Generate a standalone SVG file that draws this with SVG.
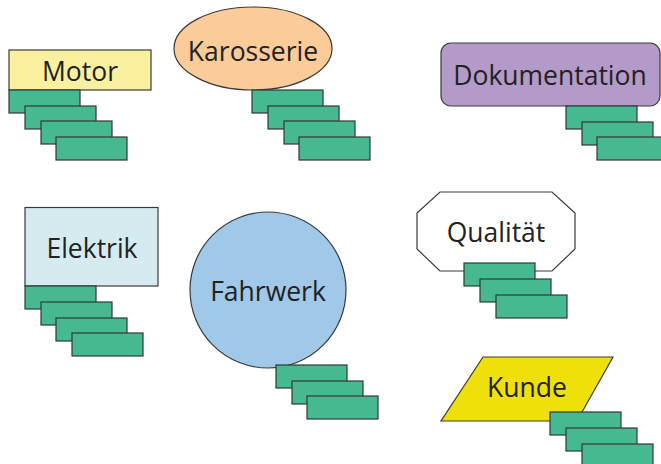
<svg xmlns="http://www.w3.org/2000/svg" width="661" height="464" viewBox="0 0 661 464">
<style>
.s{stroke:#3a3a3a;stroke-width:1.2}
.g{fill:#47B990;stroke:#2f3a35;stroke-width:1.2}
.t{font-family:"Open Sans","Noto Sans",sans-serif;font-size:26.5px;fill:#222;text-anchor:middle}
</style>
<rect width="661" height="464" fill="#fff"/>
<g id="motor">
<rect class="s" x="9" y="50" width="142" height="40" fill="#FAF0A0"/>
<text class="t" x="80" y="81">Motor</text>
<rect class="g" x="9" y="90" width="71" height="23"/>
<rect class="g" x="25" y="106" width="71" height="23"/>
<rect class="g" x="41" y="121" width="71" height="23"/>
<rect class="g" x="56" y="137" width="71" height="23"/>
</g>
<g id="karosserie">
<ellipse class="s" cx="253" cy="48.5" rx="79" ry="41.5" fill="#FBCB9A"/>
<text class="t" x="253" y="61">Karosserie</text>
<rect class="g" x="252" y="90" width="71" height="23"/>
<rect class="g" x="268" y="106" width="71" height="23"/>
<rect class="g" x="284" y="121" width="71" height="23"/>
<rect class="g" x="299" y="137" width="71" height="23"/>
</g>
<g id="dokumentation">
<rect class="s" x="441" y="43" width="219" height="63" rx="10" fill="#B49AC8"/>
<text class="t" x="550" y="85">Dokumentation</text>
<rect class="g" x="566" y="106" width="71" height="23"/>
<rect class="g" x="582" y="122" width="71" height="23"/>
<rect class="g" x="597" y="137" width="71" height="23"/>
</g>
<g id="elektrik">
<rect class="s" x="25" y="207.5" width="133" height="78.5" fill="#D6EBF0"/>
<text class="t" x="92" y="258">Elektrik</text>
<rect class="g" x="25" y="286" width="71" height="23"/>
<rect class="g" x="41" y="302" width="71" height="23"/>
<rect class="g" x="56" y="318" width="71" height="23"/>
<rect class="g" x="72" y="333" width="71" height="23"/>
</g>
<g id="fahrwerk">
<circle class="s" cx="268" cy="290" r="78" fill="#A0C8E8"/>
<text class="t" x="268" y="301">Fahrwerk</text>
<rect class="g" x="276" y="365" width="71" height="23"/>
<rect class="g" x="292" y="381" width="71" height="23"/>
<rect class="g" x="307" y="396" width="71" height="23"/>
</g>
<g id="qualitaet">
<polygon class="s" points="440,192 552,192 575,213 575,249 552,271 440,271 417,249 417,213" fill="#fff"/>
<text class="t" x="496" y="242">Qualität</text>
<rect class="g" x="464" y="263" width="71" height="23"/>
<rect class="g" x="480" y="279" width="71" height="23"/>
<rect class="g" x="496" y="295" width="71" height="23"/>
</g>
<g id="kunde">
<polygon class="s" points="483,357 613,357 577,421 441,421" fill="#F0E00A"/>
<text class="t" x="527" y="397">Kunde</text>
<rect class="g" x="550" y="412" width="71" height="23"/>
<rect class="g" x="566" y="428" width="71" height="23"/>
<rect class="g" x="582" y="444" width="71" height="23"/>
</g>
<g id="connectors"></g>
</svg>
